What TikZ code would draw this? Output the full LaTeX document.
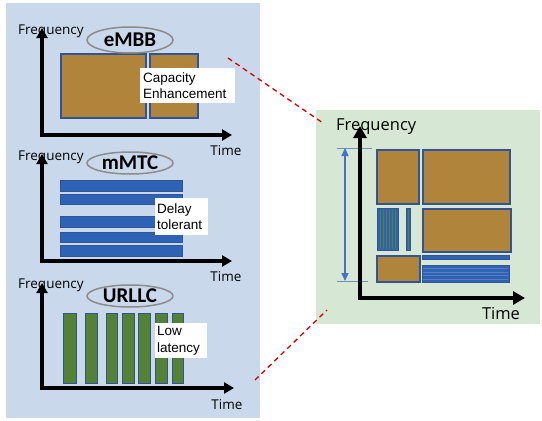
\documentclass[tikz,border=0pt]{standalone}
\usepackage{fontspec}
\setmainfont{Liberation Sans}
\newfontfamily\segoe{Open Sans}
\newfontfamily\calib{Carlito}
\usetikzlibrary{arrows.meta,shapes.geometric,calc}
\definecolor{leftbg}{HTML}{CAD8EC}
\definecolor{rightbg}{HTML}{D6E8D3}
\definecolor{brownfill}{HTML}{B0843A}
\definecolor{edgeblue}{HTML}{2F5597}
\definecolor{barblue}{HTML}{2E62B4}
\definecolor{bargreen}{HTML}{548235}
\definecolor{arrowblue}{HTML}{4472C4}
\definecolor{stripeblue}{HTML}{5A7DC0}
\definecolor{ellgray}{HTML}{8C8C8C}
\tikzset{
  axis/.style={line width=3.6pt, line join=miter, {Triangle[length=10pt,width=11pt]}-{Triangle[length=10pt,width=11pt]}},
  bigaxis/.style={line width=4.2pt, line join=miter, {Triangle[length=12pt,width=13pt]}-{Triangle[length=12pt,width=13pt]}},
  brownbox/.style={fill=brownfill, draw=edgeblue, line width=1.6pt},
  bluebar/.style={fill=barblue, draw=edgeblue, line width=1pt},
  greenbar/.style={fill=bargreen, draw=edgeblue, line width=1.4pt},
  tag/.style={ellipse, draw=ellgray, line width=1.5pt, inner sep=0pt, font=\calib\bfseries\fontsize{21}{22}\selectfont},
  note/.style={fill=white, anchor=north west, align=left, inner sep=0pt, font=\fontsize{13.5}{16.5}\selectfont},
  axlabel/.style={font=\segoe\fontsize{13.5}{15}\selectfont, inner sep=0pt},
  biglabel/.style={font=\segoe\fontsize{16.5}{18}\selectfont, inner sep=0pt},
  reddash/.style={draw=red!85!black, line width=1.3pt, dash pattern=on 5pt off 4pt},
}
\begin{document}
\begin{tikzpicture}[x=1pt,y=-1pt]
\useasboundingbox (0,0) rectangle (542,421);
% panels
\fill[leftbg] (6,3) rectangle (260,418);
\fill[rightbg] (316,110) rectangle (540,324);

% ---------- eMBB ----------
\node[axlabel, anchor=west] (f1) at (18,31) {Frequency};
\node[brownbox, minimum width=85pt, minimum height=64pt, inner sep=0pt, anchor=north west] (e1) at (60,53) {};
\node[brownbox, minimum width=48pt, minimum height=64pt, inner sep=0pt, anchor=north west] (e2) at (149,53) {};
\coordinate (a1t) at (42,28); \coordinate (a1o) at (42,135); \coordinate (a1r) at (232,135);
\draw[axis] (a1t) -- (a1o) -- (a1r);
\node[tag, minimum width=86pt, minimum height=26pt] (t1) at (130,40) {eMBB};
\node[note, minimum width=95pt, minimum height=35pt, text width=89pt, inner xsep=3pt, inner ysep=2pt] (n1) at (140,68) {Capacity\\Enhancement};
\node[axlabel] (time1) at (226,151) {Time};

% ---------- mMTC ----------
\node[axlabel, anchor=west] (f2) at (18,157) {Frequency};
\foreach \i/\ya/\yb in {1/180/191, 2/194/204, 3/216/227, 4/232/242, 5/245/256}{
  \node[bluebar, minimum width=122pt, minimum height={\yb-\ya}, inner sep=0pt, anchor=north west] (m\i) at (60,\ya) {};
}
\coordinate (a2t) at (42,154); \coordinate (a2o) at (42,261); \coordinate (a2r) at (232,261);
\draw[axis] (a2t) -- (a2o) -- (a2r);
\node[tag, minimum width=86pt, minimum height=22pt] (t2) at (130,163) {mMTC};
\node[note, minimum width=53pt, minimum height=37pt, text width=49pt, inner xsep=2pt, inner ysep=3pt] (n2) at (155,198) {Delay\\tolerant};
\node[axlabel] (time2) at (226,277) {Time};

% ---------- URLLC ----------
\node[axlabel, anchor=west] (f3) at (18,285) {Frequency};
\foreach \i/\xa/\xb in {1/63/76, 2/85/97, 3/106/117, 4/122/134, 5/138/150, 6/155/167, 7/172/183}{
  \node[greenbar, minimum width={\xb-\xa}, minimum height=70pt, inner sep=0pt, anchor=north west] (u\i) at (\xa,313) {};
}
\coordinate (a3t) at (42,283); \coordinate (a3o) at (42,388); \coordinate (a3r) at (234,388);
\draw[axis] (a3t) -- (a3o) -- (a3r);
\node[tag, minimum width=86pt, minimum height=22pt] (t3) at (130,296) {URLLC};
\node[note, minimum width=52pt, minimum height=35pt, text width=48pt, inner xsep=2pt, inner ysep=2pt] (n3) at (155,323) {Low\\latency};
\node[axlabel] (time3) at (227,405) {Time};

% ---------- right panel ----------
\node[biglabel, anchor=west] (fr) at (336,127) {Frequency};
\coordinate (brt) at (360,126); \coordinate (bro) at (360,298); \coordinate (brr) at (525,298);
% resource grid
\node[brownbox, minimum width=42pt, minimum height=54pt, inner sep=0pt, anchor=north west] (r1) at (376,149) {};
\node[brownbox, minimum width=87pt, minimum height=54pt, inner sep=0pt, anchor=north west] (r2) at (422,149) {};
\node[brownbox, minimum width=88pt, minimum height=43pt, inner sep=0pt, anchor=north west] (r3) at (422,208) {};
\node[brownbox, minimum width=43pt, minimum height=26pt, inner sep=0pt, anchor=north west] (r4) at (376,255) {};
% vertical striped (URLLC)
\node[fill=barblue, draw=edgeblue, line width=1pt, minimum width=21pt, minimum height=42pt, inner sep=0pt, anchor=north west] (s1) at (377,208) {};
\foreach \x in {380.5,383.5,386.5,389.5,392.5,395.5}{
  \draw[bargreen, line width=0.8pt] (\x,209.5) -- (\x,248.5);
}
\node[fill=barblue, draw=edgeblue, line width=1pt, minimum width=4pt, minimum height=42pt, inner sep=0pt, anchor=north west] (s2) at (406,208) {};
\draw[bargreen, line width=0.8pt] ($(s2.north)+(0,1.5)$) -- ($(s2.south)+(0,-1.5)$);
% horizontal striped (mMTC)
\node[bluebar, minimum width=87pt, minimum height=4pt, inner sep=0pt, anchor=north west] (h1) at (422,255) {};
\node[bluebar, minimum width=87pt, minimum height=17pt, inner sep=0pt, anchor=north west] (h2) at (422,265) {};
\foreach \y in {268.5,272,275.5,279}{
  \draw[stripeblue, line width=0.5pt] (423,\y) -- (508,\y);
}
% bracket
\coordinate (bt1) at (337,148); \coordinate (bt2) at (372,148);
\coordinate (bb1) at (337,281); \coordinate (bb2) at (368,281);
\draw[arrowblue!80, line width=0.8pt] (bt1) -- (bt2);
\draw[arrowblue!80, line width=0.8pt] (bb1) -- (bb2);
\coordinate (ba) at (345,148); \coordinate (bb) at (345,281);
\draw[arrowblue, line width=1.3pt, {Triangle[length=8pt,width=7pt]}-{Triangle[length=8pt,width=7pt]}] (ba) -- (bb);
\draw[bigaxis] (brt) -- (bro) -- (brr);
\node[biglabel] (timer) at (501,314) {Time};

% ---------- zoom lines ----------
\coordinate (z1a) at (228,58); \coordinate (z1b) at (323,123);
\coordinate (z2a) at (255,380); \coordinate (z2b) at (327,310);
\draw[reddash] (z1a) -- (z1b);
\draw[reddash] (z2a) -- (z2b);
\end{tikzpicture}
\end{document}
